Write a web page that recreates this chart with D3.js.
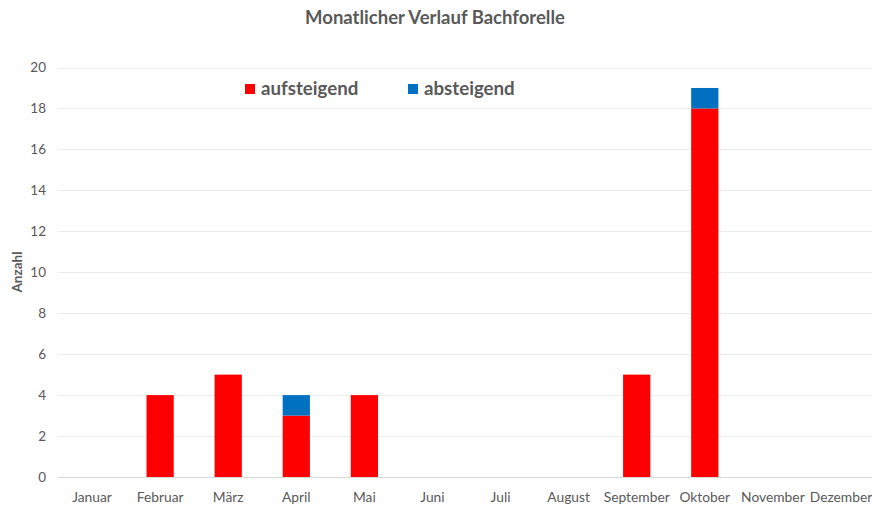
<!DOCTYPE html>
<html>
<head>
<meta charset="utf-8">
<script src="https://cdn.jsdelivr.net/npm/d3@7"></script>
<style>
  body { margin: 0; background: #fff; }
  svg { font-family: Lato, "Open Sans", sans-serif; }
</style>
</head>
<body>
<div id="chart"></div>
<script>
// data
const months = ["Januar", "Februar", "März", "April", "Mai", "Juni", "Juli",
                "August", "September", "Oktober", "November", "Dezember"];
const aufsteigend = [0, 4, 5, 3, 4, 0, 0, 0, 5, 18, 0, 0];
const absteigend  = [0, 0, 0, 1, 0, 0, 0, 0, 0, 1, 0, 0];
const seriesNames = ["aufsteigend", "absteigend"];
const seriesColors = ["#ff0000", "#0070c0"];
const yTicks = [0, 2, 4, 6, 8, 10, 12, 14, 16, 18, 20];

let dim = { width: 872, height: 507 };

let svg = d3.select('#chart').append('svg')
    .attr('width', dim.width)
    .attr('height', dim.height);

let rows = months.map((m, i) => ({ month: m, aufsteigend: aufsteigend[i], absteigend: absteigend[i] }));
let stacked = d3.stack().keys(seriesNames)(rows);

let x = d3.scaleBand().domain(months).range([58, 875]).paddingInner(0.6).paddingOuter(0.3);
let y = d3.scaleLinear().domain([0, 20]).range([477, 67.5]);
let color = d3.scaleOrdinal().domain(seriesNames).range(seriesColors);

// gridlines
svg.append('g')
  .selectAll('line')
  .data(yTicks)
  .join('line')
    .attr('x1', 58).attr('x2', 872)
    .attr('y1', d => Math.round(y(d)) + 0.5)
    .attr('y2', d => Math.round(y(d)) + 0.5)
    .attr('stroke', d => d === 0 ? '#d9d9d9' : '#ececec')
    .attr('stroke-width', 1);

// y axis labels
let yAxis = svg.append('g')
    .attr('transform', 'translate(50,0)')
    .call(d3.axisLeft(y).tickValues(yTicks).tickSize(0).tickPadding(4));
yAxis.select('.domain').remove();
yAxis.selectAll('text').attr('font-size', 13.5).attr('fill', '#595959')
    .attr('font-family', 'Lato, "Open Sans", sans-serif');

// x axis labels (category centers)
let xAxis = svg.append('g')
    .attr('transform', 'translate(0,486)')
    .call(d3.axisBottom(x).tickSize(0).tickPadding(6));
xAxis.select('.domain').remove();
xAxis.selectAll('text').attr('font-size', 13.8).attr('fill', '#595959')
    .attr('font-family', 'Lato, "Open Sans", sans-serif');

// bars
svg.append('g')
  .selectAll('g')
  .data(stacked)
  .join('g')
    .attr('fill', d => color(d.key))
  .selectAll('rect')
  .data(d => d.filter(s => s[1] > s[0]))
  .join('rect')
    .attr('x', d => x(d.data.month))
    .attr('width', x.bandwidth())
    .attr('y', d => y(d[1]))
    .attr('height', d => y(d[0]) - y(d[1]));

// title
svg.append('text')
    .attr('x', 435).attr('y', 24)
    .attr('text-anchor', 'middle')
    .attr('font-size', 18.5).attr('font-weight', 'bold')
    .attr('fill', '#595959')
    .text('Monatlicher Verlauf Bachforelle');

// y axis title
svg.append('text')
    .attr('transform', 'translate(22,272) rotate(-90)')
    .attr('text-anchor', 'middle')
    .attr('font-size', 13.5).attr('font-weight', 'bold')
    .attr('fill', '#595959')
    .text('Anzahl');

// legend
let legendX = [245, 408];
let legend = svg.append('g')
  .selectAll('g')
  .data(seriesNames)
  .join('g')
    .attr('transform', (d, i) => `translate(${legendX[i]},84)`);
legend.append('rect')
    .attr('width', 10).attr('height', 10)
    .attr('fill', d => color(d));
legend.append('text')
    .attr('x', 16).attr('y', 11)
    .attr('font-size', 18.7).attr('font-weight', 'bold')
    .attr('fill', '#595959')
    .text(d => d);
</script>
</body>
</html>
